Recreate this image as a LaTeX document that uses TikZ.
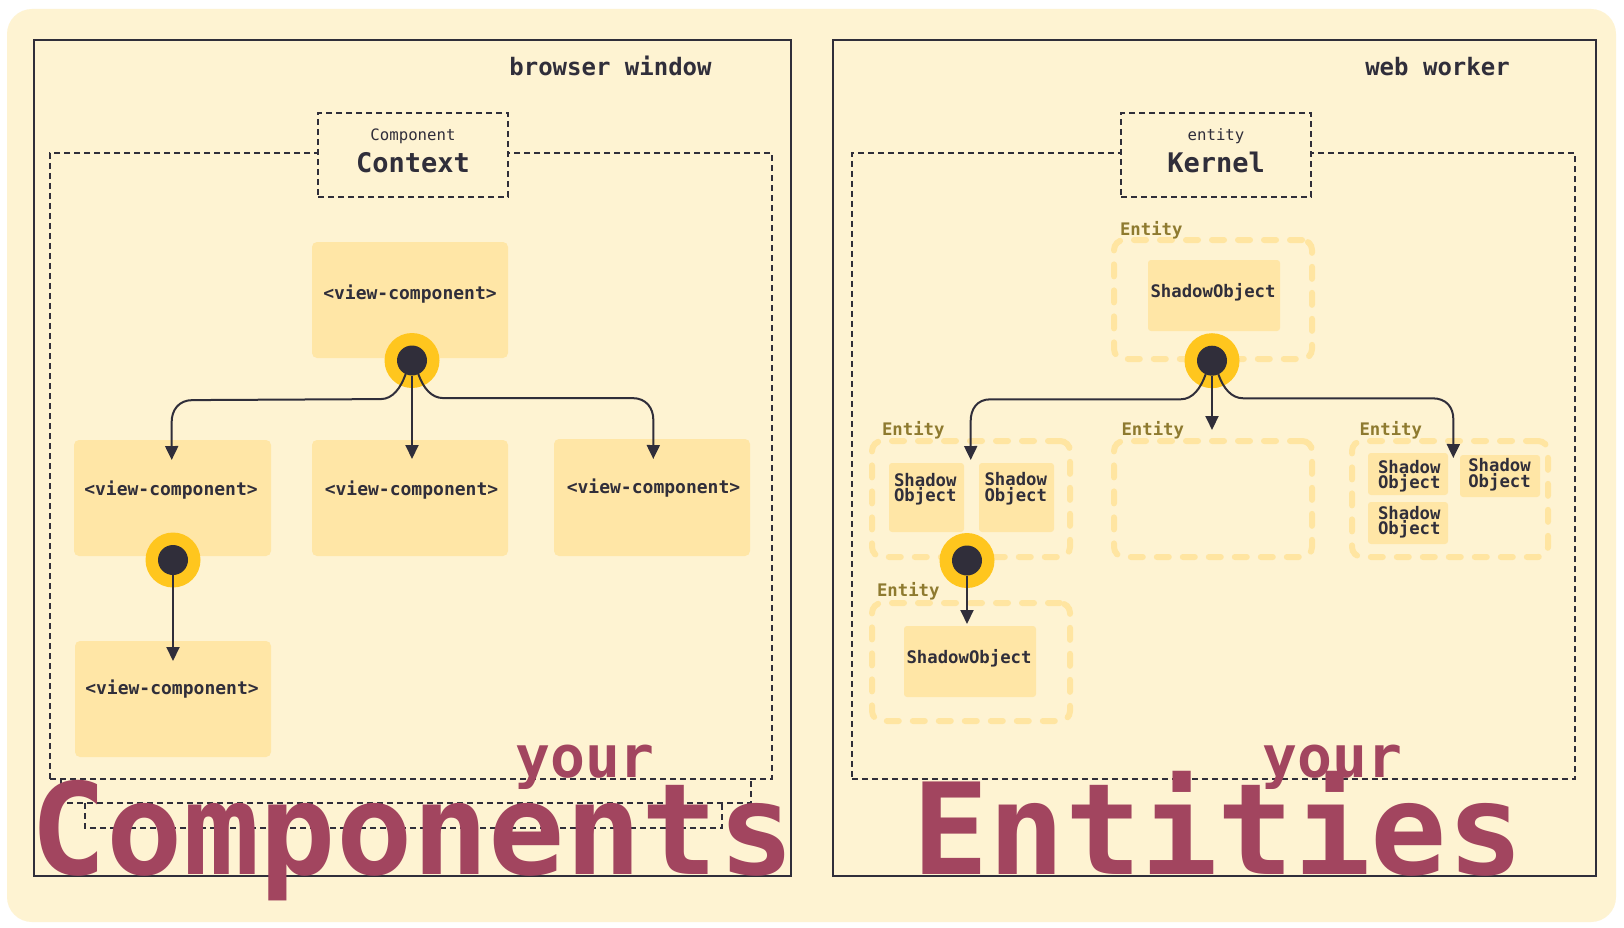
\documentclass[tikz,border=0pt]{standalone}
\usepackage{fontspec}
\setmonofont{DejaVu Sans Mono}
\usetikzlibrary{arrows.meta,calc}
\definecolor{bg}{HTML}{FEF3D2}
\definecolor{ink}{HTML}{302E3A}
\definecolor{boxc}{HTML}{FFE6A6}
\definecolor{dashc}{HTML}{FFE5A1}
\definecolor{gold}{HTML}{FFC61E}
\definecolor{olive}{HTML}{8E7A2F}
\definecolor{berry}{HTML}{A2455F}
\begin{document}
\begin{tikzpicture}[x=1pt,y=-1pt,
  every node/.style={inner sep=0pt,outer sep=0pt},
  outerbox/.style={draw=ink,line width=2.2pt},
  ctr/.style={draw=ink,line width=1.8pt,dash pattern=on 6pt off 4pt},
  ctxbox/.style={draw=ink,line width=1.8pt,dash pattern=on 6pt off 4pt,fill=bg},
  vcbox/.style={fill=boxc,rounded corners=5pt},
  sobox/.style={fill=boxc,rounded corners=3pt},
  entgrp/.style={draw=dashc,line width=6pt,dash pattern=on 12pt off 14pt,line cap=round,rounded corners=10pt},
  ttl/.style={font=\ttfamily\bfseries\fontsize{24}{24}\selectfont,text=ink},
  small/.style={font=\ttfamily\fontsize{15.7}{16}\selectfont,text=ink},
  big/.style={font=\ttfamily\bfseries\fontsize{27}{27}\selectfont,text=ink},
  vct/.style={font=\ttfamily\bfseries\fontsize{18}{18}\selectfont,text=ink},
  sot/.style={font=\ttfamily\bfseries\fontsize{17.3}{17}\selectfont,text=ink},
  entl/.style={font=\ttfamily\bfseries\fontsize{17.3}{17}\selectfont,text=olive},
  huge/.style={font=\ttfamily\bfseries\fontsize{127}{127}\selectfont,text=berry},
  yourt/.style={font=\ttfamily\bfseries\fontsize{58}{58}\selectfont,text=berry},
  ring/.style={circle,fill=gold,minimum size=55pt},
  core/.style={circle,fill=ink,minimum size=30pt},
  arr/.style={draw=ink,line width=2pt,-{Triangle[length=14pt,width=13pt]}}
]
\useasboundingbox (0,0) rectangle (1624,928);
\fill[white] (0,0) rectangle (1624,928);
\fill[bg,rounded corners=25pt] (7,9) rectangle (1616,922);

% outer frames
\node[outerbox,minimum width=757pt,minimum height=836pt] (bw) at (412.5,458) {};
\node[outerbox,minimum width=763pt,minimum height=836pt] (ww) at (1214.5,458) {};
\node[ttl,anchor=base] (bwt) at (610.5,76) {browser window};
\node[ttl,anchor=base] (wwt) at (1437.5,76) {web worker};

% containers
\node[ctr,minimum width=722pt,minimum height=626pt] (cl) at (411,466) {};
\node[ctr,minimum width=723pt,minimum height=626pt] (cr) at (1213.5,466) {};
\draw[ctr] (61,779) -- (61,803) -- (751,803) -- (751,779);
\draw[ctr] (85,803) -- (85,828) -- (722,828) -- (722,803);

% context / kernel boxes
\node[ctxbox,minimum width=190pt,minimum height=84pt] (ctx) at (413,155) {};
\node[small,anchor=base] (ctxa) at (413,140.5) {Component};
\node[big,anchor=base] (ctxb) at (413,172.5) {Context};
\node[ctxbox,minimum width=190pt,minimum height=84pt] (ker) at (1216,155) {};
\node[small,anchor=base] (kera) at (1216,140.5) {entity};
\node[big,anchor=base] (kerb) at (1216,172.5) {Kernel};

% view components
\node[vcbox,minimum width=196pt,minimum height=116pt] (vcT) at (410,300) {};
\node[vcbox,minimum width=197pt,minimum height=116pt] (vcL) at (172.5,498) {};
\node[vcbox,minimum width=196pt,minimum height=116pt] (vcM) at (410,498) {};
\node[vcbox,minimum width=196pt,minimum height=117pt] (vcR) at (652,497.5) {};
\node[vcbox,minimum width=196pt,minimum height=116pt] (vcB) at (173,699) {};
\node[vct] (vcTt) at (410,294.5) {<view-component>};
\node[vct] (vcLt) at (171,490.5) {<view-component>};
\node[vct] (vcMt) at (411.5,490.5) {<view-component>};
\node[vct] (vcRt) at (653.5,488.5) {<view-component>};
\node[vct] (vcBt) at (172,689.5) {<view-component>};

% entity groups
\node[entgrp,minimum width=198pt,minimum height=119pt] (eT) at (1213,299.5) {};
\node[entgrp,minimum width=198pt,minimum height=116pt] (eL) at (971,499) {};
\node[entgrp,minimum width=198pt,minimum height=116pt] (eM) at (1213,499) {};
\node[entgrp,minimum width=196pt,minimum height=116pt] (eR) at (1450,499) {};
\node[entgrp,minimum width=198pt,minimum height=118pt] (eB) at (971,662) {};
\node[entl,anchor=west] (eTl) at (1120,230) {Entity};
\node[entl,anchor=west] (eLl) at (882,430) {Entity};
\node[entl,anchor=west] (eMl) at (1121.5,430) {Entity};
\node[entl,anchor=west] (eRl) at (1359.5,430.5) {Entity};
\node[entl,anchor=west] (eBl) at (877,591.5) {Entity};

% shadow objects
\node[sobox,minimum width=132pt,minimum height=71pt] (soT) at (1214,295.5) {};
\node[sot] (soTt) at (1213,292.7) {ShadowObject};
\node[sobox,minimum width=132pt,minimum height=71pt] (soB) at (970,661.5) {};
\node[sot] (soBt) at (969,658) {ShadowObject};
\node[sobox,minimum width=75pt,minimum height=69pt] (soL1) at (926.5,497.5) {};
\node[sobox,minimum width=75pt,minimum height=69pt] (soL2) at (1016.5,497.5) {};
\node[sobox,minimum width=80pt,minimum height=42pt] (soRA) at (1408,474) {};
\node[sobox,minimum width=80pt,minimum height=42pt] (soRB) at (1500,476) {};
\node[sobox,minimum width=80pt,minimum height=42pt] (soRC) at (1408,523) {};
\node[sot,anchor=base west] (soL1a) at (894,486) {Shadow};
\node[sot,anchor=base west] (soL1b) at (894,501.5) {Object};
\node[sot,anchor=base west] (soL2a) at (984.5,485.5) {Shadow};
\node[sot,anchor=base west] (soL2b) at (984.5,501) {Object};
\node[sot,anchor=base west] (soRAa) at (1378,473.3) {Shadow};
\node[sot,anchor=base west] (soRAb) at (1378,488.5) {Object};
\node[sot,anchor=base west] (soRBa) at (1468.3,471.7) {Shadow};
\node[sot,anchor=base west] (soRBb) at (1468.3,487) {Object};
\node[sot,anchor=base west] (soRCa) at (1378,519) {Shadow};
\node[sot,anchor=base west] (soRCb) at (1378,534) {Object};

% dots
\node[ring] (dA) at (412,360.5) {};
\node[core] (dAi) at (412,360.5) {};
\node[ring] (dB) at (173,560) {};
\node[core] (dBi) at (173,560) {};
\node[ring] (dC) at (1212,360.7) {};
\node[core] (dCi) at (1212,360.7) {};
\node[ring] (dD) at (967,560.5) {};
\node[core] (dDi) at (967,560.5) {};

% connectors left
\draw[arr] (dAi.-115) .. controls +(-5,14) and +(12,0) .. ++(-25,25) -- ++(-188,1)
  .. controls +(-14,0) and +(0,-12) .. ++(-21,22) -- ($(vcL.north)+(-0.8,20)$);
\draw[arr] (dAi.south) -- ($(vcM.north -| dAi)+(0,19)$);
\draw[arr] (dAi.-65) .. controls +(5,14) and +(-12,0) .. ++(25,24) -- ++(189,0)
  .. controls +(14,0) and +(0,-12) .. ++(21,22) -- ($(vcR.north)+(1.3,20)$);
\draw[arr] (dBi.south) -- ($(vcB.north -| dBi)+(0,20)$);

% connectors right
\draw[arr] (dCi.-115) .. controls +(-5,14) and +(12,0) .. ++(-25,25) -- ++(-190,0)
  .. controls +(-14,0) and +(0,-12) .. ++(-20,22) -- ($(eL.north)+(-0.3,19)$);
\draw[arr] (dCi.south) -- ($(eM.north -| dCi)+(0,-11)$);
\draw[arr] (dCi.-65) .. controls +(5,14) and +(-12,0) .. ++(25,24) -- ++(189,0)
  .. controls +(14,0) and +(0,-12) .. ++(21,21) -- ($(eR.north)+(3.3,17)$);
\draw[arr] (dDi.south) -- ($(eB.north -| dDi)+(0,21)$);

% big texts
\node[yourt,anchor=base] (y1) at (585,777) {your};
\node[huge,anchor=base] (comp) at (412.5,874) {Components};
\node[yourt,anchor=base] (y2) at (1332.5,777) {your};
\node[huge,anchor=base] (ents) at (1218,874) {Entities};
\end{tikzpicture}
\end{document}
